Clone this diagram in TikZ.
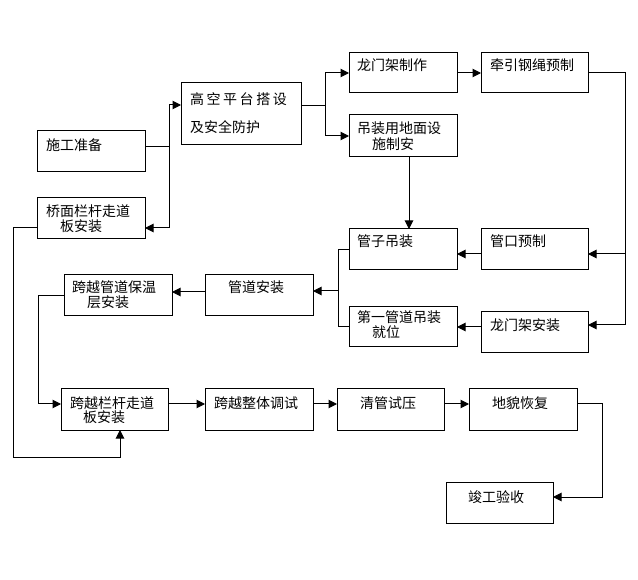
\documentclass[tikz,border=0pt]{standalone}
\usepackage{fontspec}
\newfontfamily\cjk{Noto Sans CJK SC}
\usetikzlibrary{arrows.meta}
\begin{document}
\begin{tikzpicture}[x=1pt,y=-1pt,
  box/.style={draw,line width=1pt,inner sep=0pt,outer sep=0pt},
  txt/.style={font=\cjk\fontsize{14}{15}\selectfont,inner sep=0pt,anchor=base west},
  wide/.style={font=\cjk\fontsize{14}{15}\selectfont\addfontfeatures{LetterSpace=18},inner sep=0pt,anchor=base west},
  con/.style={line width=1pt},
  arr/.style={line width=1pt,-{Triangle[length=8.5pt,width=8.5pt]}}]
\useasboundingbox (0,0) rectangle (638,580);
% boxes
\node[box,minimum width=108,minimum height=41] (sg) at (91,151.5) {};
\node[box,minimum width=108,minimum height=41] (qm) at (91,218.5) {};
\node[box,minimum width=120,minimum height=62] (gk) at (241,114) {};
\node[box,minimum width=108,minimum height=40] (lm1) at (403,73) {};
\node[box,minimum width=107,minimum height=40] (qy) at (534.5,73) {};
\node[box,minimum width=108,minimum height=42] (dz) at (403,136) {};
\node[box,minimum width=108,minimum height=41] (gz) at (403,249.5) {};
\node[box,minimum width=107,minimum height=41] (gkz) at (534.5,249.5) {};
\node[box,minimum width=108,minimum height=40] (dy) at (403,327) {};
\node[box,minimum width=107,minimum height=41] (lma) at (534.5,332.5) {};
\node[box,minimum width=108,minimum height=41] (gda) at (259,295.5) {};
\node[box,minimum width=108,minimum height=41] (bw) at (118,295.5) {};
\node[box,minimum width=107,minimum height=41] (kl) at (114.5,409.5) {};
\node[box,minimum width=108,minimum height=41] (zt) at (259,409.5) {};
\node[box,minimum width=107,minimum height=41] (qg) at (390.5,409.5) {};
\node[box,minimum width=108,minimum height=41] (dm) at (523,409.5) {};
\node[box,minimum width=107,minimum height=41] (jg) at (499.5,502.5) {};
% texts
\node[txt] (tsg) at (46,151) {施工准备};
\node[txt] (tqm1) at (46,217) {桥面栏杆走道};
\node[txt] (tqm2) at (60,232) {板安装};
\node[wide] (tgk1) at (190,105) {高空平台搭设};
\node[txt] (tgk2) at (190,133) {及安全防护};
\node[txt] (tlm1) at (357,71) {龙门架制作};
\node[txt] (tqy) at (490,71) {牵引钢绳预制};
\node[txt] (tdz1) at (357,134) {吊装用地面设};
\node[txt] (tdz2) at (372,150) {施制安};
\node[txt] (tgz) at (357,247) {管子吊装};
\node[txt] (tgkz) at (490,247) {管口预制};
\node[txt] (tdy1) at (357,323) {第一管道吊装};
\node[txt] (tdy2) at (372,338) {就位};
\node[txt] (tlma) at (490,331) {龙门架安装};
\node[txt] (tgda) at (228,293) {管道安装};
\node[txt] (tbw1) at (72,293) {跨越管道保温};
\node[txt] (tbw2) at (87,308) {层安装};
\node[txt] (tkl1) at (70,408) {跨越栏杆走道};
\node[txt] (tkl2) at (83,422) {板安装};
\node[txt] (tzt) at (214,408) {跨越整体调试};
\node[txt] (tqg) at (360,408) {清管试压};
\node[txt] (tdm) at (492,408) {地貌恢复};
\node[txt] (tjg) at (468,502) {竣工验收};
% junction coordinates
\coordinate (j1) at (169,147);
\coordinate (j2) at (325,106);
\coordinate (j3) at (625,254);
\coordinate (j4) at (625,325);
\coordinate (j5) at (338,291);
\coordinate (c1) at (38,404);
\coordinate (c2) at (602,497);
\coordinate (c3) at (13,457);
% connectors
\draw[con] (sg.east|-j1) -- (j1);
\draw[arr] (j1) |- ([yshift=9]gk.west);
\draw[arr] (j1) |- ([yshift=-9.5]qm.east);
\draw[con] ([yshift=8]gk.east) -- (j2);
\draw[arr] (j2) |- (lm1.west);
\draw[arr] (j2) |- (dz.west);
\draw[arr] (lm1.east) -- (qy.west);
\draw[con] (qy.east) -| (j4);
\draw[arr] (j3) -- (gkz.east|-j3);
\draw[arr] (j4) -- (lma.east|-j4);
\draw[arr] ([xshift=6]dz.south) -- ([xshift=6]gz.north);
\draw[arr] ([yshift=-4.5]gkz.west) -- ([yshift=-4.5]gz.east);
\draw[arr] (lma.west|-dy.east) -- (dy.east);
\draw[con] (gz.west) -| (j5);
\draw[con] (dy.west) -| (j5);
\draw[arr] (j5) -- (gda.east|-j5);
\draw[arr] ([yshift=3.5]gda.west) -- ([yshift=3.5]bw.east);
\draw[arr] (bw.west) -| (c1) -- ([yshift=5.5]kl.west);
\draw[arr] ([yshift=5.5]kl.east) -- ([yshift=5.5]zt.west);
\draw[arr] ([yshift=5.5]zt.east) -- ([yshift=5.5]qg.west);
\draw[arr] ([yshift=5.5]qg.east) -- ([yshift=5.5]dm.west);
\draw[arr] ([yshift=6]dm.east) -| (c2) -- ([yshift=5.5]jg.east);
\draw[arr] ([yshift=-9.5]qm.west) -| (c3) -| ([xshift=5.5]kl.south);
\end{tikzpicture}
\end{document}
